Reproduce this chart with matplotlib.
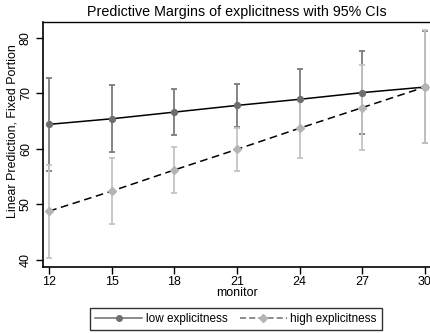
import numpy as np
import matplotlib.pyplot as plt
from matplotlib.lines import Line2D

plt.rcParams['font.family'] = ['Liberation Sans', 'DejaVu Sans']

# Predicted margins
monitor = [12, 15, 18, 21, 24, 27, 30]
low_fit = [64.4, 65.4, 66.6, 67.8, 68.9, 70.1, 71.1]
low_lo = [56.0, 59.4, 62.4, 63.9, 63.5, 62.6, 61.0]
low_hi = [72.7, 71.5, 70.8, 71.7, 74.3, 77.5, 81.2]
high_fit = [48.8, 52.4, 56.2, 59.9, 63.7, 67.4, 71.1]
high_lo = [40.4, 46.5, 52.0, 56.0, 58.3, 59.8, 61.0]
high_hi = [57.1, 58.4, 60.4, 63.7, 69.1, 75.0, 81.3]

dark = '#6e6e6e'
light = '#b4b4b4'

fig = plt.figure(figsize=(4.31, 3.33), dpi=100)
ax = fig.add_axes([43/431, 1 - 266.7/333, 1 - 43/431, (266.7 - 22)/333])

x = np.array(monitor)
ax.errorbar(x, low_fit,
            yerr=[np.array(low_fit) - low_lo, np.array(low_hi) - low_fit],
            fmt='none', ecolor='#7c7c7c', elinewidth=1.3, capsize=1.9, capthick=1.3)
ax.errorbar(x, high_fit,
            yerr=[np.array(high_fit) - high_lo, np.array(high_hi) - high_fit],
            fmt='none', ecolor='#c4c4c4', elinewidth=1.3, capsize=1.9, capthick=1.3)

ax.plot(x, low_fit, color='black', lw=1.1, zorder=3)
ax.plot(x, low_fit, 'o', color=dark, ms=4.2, zorder=4)
ax.plot(x, high_fit, color='black', lw=1.1, ls=(0, (5, 3)), zorder=3)
ax.plot(x, high_fit, 'D', color=light, ms=4.2, zorder=4)

ax.set_xlim(11.7, 30.3)
ax.set_ylim(38.8, 82.8)
ax.set_xticks(monitor)
ax.set_yticks([40, 50, 60, 70, 80])
ax.tick_params(axis='both', direction='out', length=5, width=1, labelsize=9, pad=2)
ax.tick_params(axis='y', pad=3)
for lab in ax.get_yticklabels():
    lab.set_rotation(90)
    lab.set_va('center')

ax.spines['right'].set_visible(False)
ax.spines['left'].set_linewidth(1.2)
ax.spines['bottom'].set_linewidth(1.2)
ax.spines['top'].set_linewidth(1.0)

ax.set_xlabel('monitor', fontsize=9, labelpad=-1)
ax.set_ylabel('Linear Prediction, Fixed Portion', fontsize=8.9, va='center')
ax.yaxis.set_label_coords(-0.079, 0.555)
ax.set_title('Predictive Margins of explicitness with 95% CIs', fontsize=10.3, pad=4)

l1 = Line2D([], [], color=dark, lw=1.1, marker='o', ms=4, mfc=dark, mec=dark)
l2 = Line2D([], [], color=dark, lw=1.1, ls=(0, (4, 2)), marker='D', ms=4, mfc=light, mec=light)
leg = fig.legend([l1, l2], ['low explicitness', 'high explicitness'],
                 loc='center', bbox_to_anchor=(236/431, 1 - 319/333), ncol=2,
                 fontsize=8.5, frameon=True, fancybox=False, edgecolor='black',
                 handlelength=4, columnspacing=1.0, borderpad=0.45, handletextpad=0.3,
                 borderaxespad=0)
leg.get_frame().set_linewidth(1.0)

fig.savefig('out.png', dpi=100)
